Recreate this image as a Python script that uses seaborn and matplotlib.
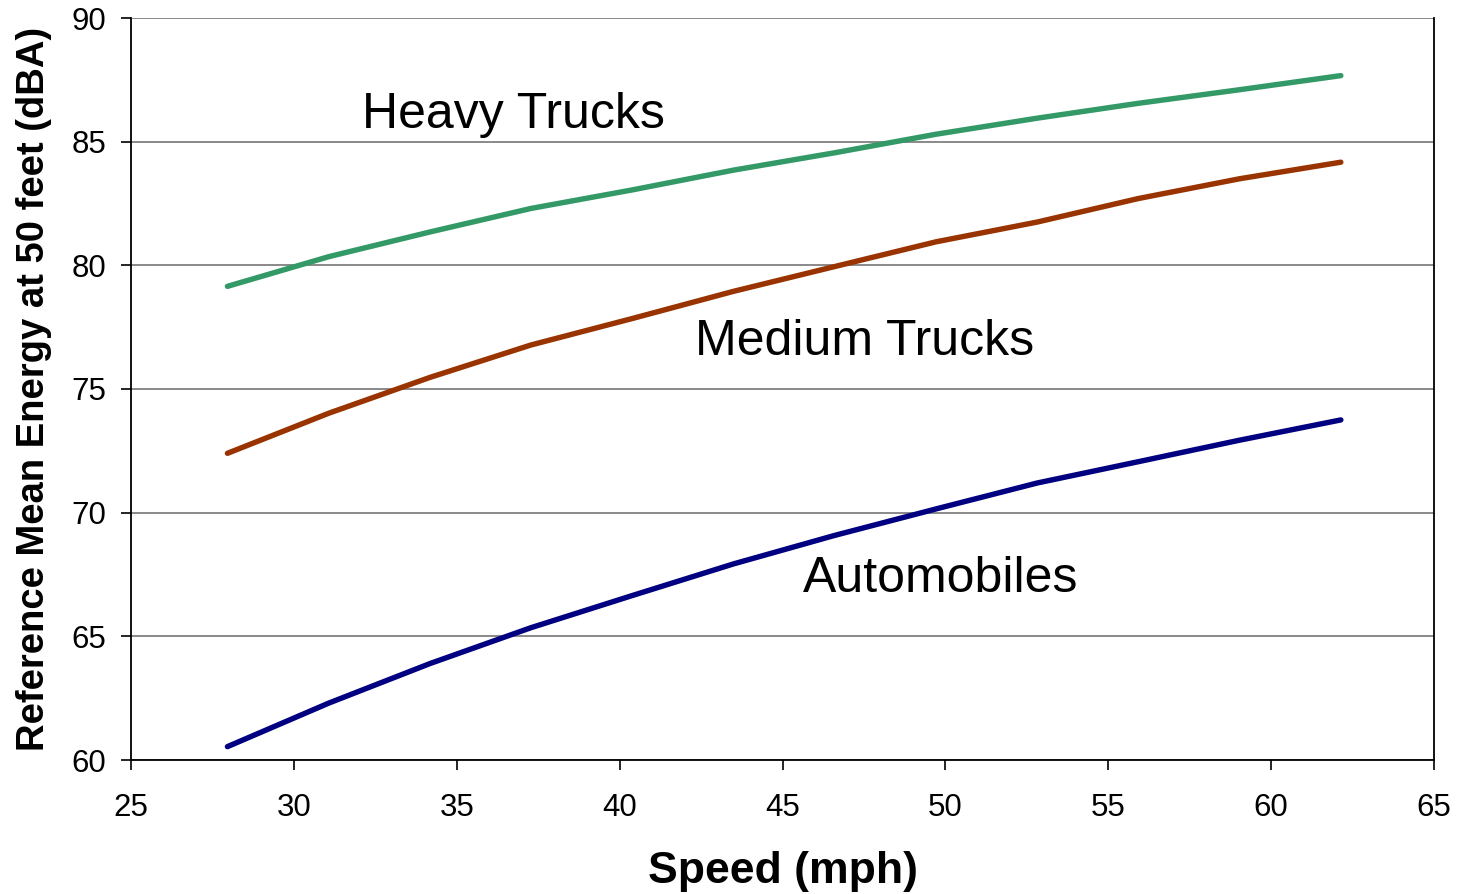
import numpy as np
import pandas as pd
import matplotlib
matplotlib.use("Agg")
import matplotlib.pyplot as plt
import seaborn as sns

# Speeds (mph) corresponding to 45..100 km/h in 5 km/h steps
speed_mph = [27.96, 31.07, 34.18, 37.28, 40.39, 43.50, 46.60, 49.71, 52.82, 55.92, 59.03, 62.14]

# Reference mean energy emission levels at 50 ft (dBA)
heavy_trucks = [79.15, 80.35, 81.35, 82.30, 83.05, 83.85, 84.55, 85.30, 85.95, 86.55, 87.10, 87.67]
medium_trucks = [72.40, 74.02, 75.47, 76.78, 77.85, 78.95, 79.95, 80.95, 81.75, 82.70, 83.50, 84.17]
automobiles = [60.54, 62.30, 63.90, 65.35, 66.65, 67.93, 69.08, 70.15, 71.20, 72.06, 72.93, 73.75]

series_names = ["Heavy Trucks", "Medium Trucks", "Automobiles"]
series_colors = ["#339966", "#993300", "#000080"]

x_ticks = [25, 30, 35, 40, 45, 50, 55, 60, 65]
y_ticks = [60, 65, 70, 75, 80, 85, 90]

df = pd.DataFrame({
    "speed": speed_mph * 3,
    "level": heavy_trucks + medium_trucks + automobiles,
    "vehicle": [n for n in series_names for _ in speed_mph],
})

sns.set_theme(style="white")
plt.rcParams["font.family"] = ["Liberation Sans", "DejaVu Sans"]
plt.rcParams["text.color"] = "black"
plt.rcParams["axes.labelcolor"] = "black"
plt.rcParams["xtick.color"] = "black"
plt.rcParams["ytick.color"] = "black"

fig = plt.figure(figsize=(14.59, 8.94), dpi=100)
ax = fig.add_axes([131 / 1459, 1 - 760 / 894, (1434 - 131) / 1459, (760 - 18) / 894])

sns.lineplot(data=df, x="speed", y="level", hue="vehicle",
             palette=dict(zip(series_names, series_colors)),
             linewidth=3.9, legend=False, ax=ax, solid_capstyle="round")

ax.set_xlim(25, 65)
ax.set_ylim(60, 90)
ax.set_xticks(x_ticks)
ax.set_yticks(y_ticks)
ax.yaxis.grid(True, color="#808080", linewidth=1.3)
ax.xaxis.grid(False)
ax.set_axisbelow(True)

for side in ["left", "bottom", "right"]:
    ax.spines[side].set_visible(True)
    ax.spines[side].set_color("black")
    ax.spines[side].set_linewidth(1.3)
ax.spines["top"].set_visible(False)

ax.tick_params(axis="both", which="major", direction="out", length=7, width=1.2,
               color="black", labelsize=22.5, labelcolor="black")
ax.tick_params(axis="x", bottom=True, pad=17)
ax.tick_params(axis="y", left=True, pad=11)

ax.set_xlabel("Speed (mph)", fontsize=32, fontweight="bold", labelpad=20)
ax.set_ylabel("Reference Mean Energy at 50 feet (dBA)", fontsize=27.5,
              fontweight="bold", labelpad=14)

ax.text(32.09, 85.55, "Heavy Trucks", fontsize=36, ha="left", va="baseline")
ax.text(42.31, 76.37, "Medium Trucks", fontsize=36, ha="left", va="baseline")
ax.text(45.63, 66.79, "Automobiles", fontsize=36, ha="left", va="baseline")

fig.savefig("out.png", dpi=100, facecolor="white")
